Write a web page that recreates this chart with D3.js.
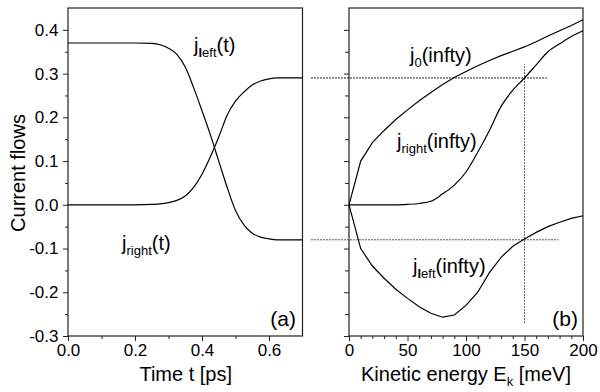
<!DOCTYPE html>
<html>
<head>
<meta charset="utf-8">
<script src="https://cdn.jsdelivr.net/npm/d3@7"></script>
<style>
  html, body { margin: 0; padding: 0; background: #fff; }
  svg { display: block; font-family: "Liberation Sans", Arial, sans-serif; }
</style>
</head>
<body>
<svg id="chart" width="600" height="392"></svg>
<script>
// ---- Data ----
// Panel (a): time in ps
const timeT = [0, 0.05, 0.1, 0.15, 0.2, 0.25, 0.275, 0.3, 0.325, 0.35, 0.375, 0.4, 0.425, 0.45, 0.475, 0.5, 0.525, 0.55, 0.575, 0.6, 0.625, 0.65, 0.7];
const jLeftT  = [0.37, 0.37, 0.37, 0.37, 0.37, 0.369, 0.366, 0.358, 0.344, 0.315, 0.268, 0.215, 0.16, 0.10, 0.04, -0.013, -0.046, -0.065, -0.074, -0.078, -0.08, -0.08, -0.08];
const jRightT = [0, 0, 0, 0, 0, 0.001, 0.002, 0.005, 0.01, 0.02, 0.04, 0.07, 0.11, 0.155, 0.205, 0.237, 0.258, 0.274, 0.283, 0.288, 0.29, 0.29, 0.29];

// Panel (b): kinetic energy in meV
const energyE = [0, 10, 20, 30, 40, 50, 60, 70, 80, 90, 100, 110, 120, 130, 140, 150, 160, 170, 180, 190, 200];
const j0Inf     = [0, 0.10, 0.142, 0.17, 0.195, 0.217, 0.238, 0.257, 0.275, 0.291, 0.305, 0.318, 0.33, 0.341, 0.351, 0.361, 0.373, 0.386, 0.398, 0.41, 0.423];
const jRightInf = [0, 0, 0, 0, 0, 0.001, 0.003, 0.008, 0.025, 0.045, 0.075, 0.12, 0.17, 0.225, 0.262, 0.29, 0.32, 0.35, 0.368, 0.385, 0.398];
const jLeftInf  = [0, -0.10, -0.14, -0.168, -0.193, -0.214, -0.233, -0.248, -0.257, -0.252, -0.23, -0.20, -0.155, -0.12, -0.095, -0.078, -0.063, -0.05, -0.04, -0.031, -0.025];

// Reference (dotted) lines in panel (b) coordinates
const hLine1 = { y: 0.29, x0: -32.5, x1: 169 };
const hLine2 = { y: -0.08, x0: -32.5, x1: 179 };
const vLine  = { x: 150, y0: -0.27, y1: 0.322 };

// Tick values
const yMajor = [-0.3, -0.2, -0.1, 0.0, 0.1, 0.2, 0.3, 0.4];
const yMinor = [-0.25, -0.15, -0.05, 0.05, 0.15, 0.25, 0.35];
const tMajor = [0.0, 0.2, 0.4, 0.6];
const tMinor = [0.1, 0.3, 0.5];
const eMajor = [0, 50, 100, 150, 200];
const eMinor = [10, 20, 30, 40, 60, 70, 80, 90, 110, 120, 130, 140, 160, 170, 180, 190];

// ---- Layout ----
const plotTop = 8, plotBottom = 336;
const aLeft = 68, aRight = 302.5;
const bLeft = 349, bRight = 583;

const svg = d3.select("#chart");
const y = d3.scaleLinear().domain([-0.3, 0.45]).range([plotBottom, plotTop]);
const xA = d3.scaleLinear().domain([0, 0.7]).range([aLeft, aRight]);
const xB = d3.scaleLinear().domain([0, 200]).range([bLeft, bRight]);

const axisColor = "#222";
const fmt = d => d.toFixed(1);

function styleAxis(g, fontSize) {
  g.select(".domain").remove();
  g.selectAll(".tick line").attr("stroke", axisColor);
  g.selectAll(".tick text").attr("fill", "#000").attr("font-size", fontSize)
    .attr("font-family", '"Liberation Sans", Arial, sans-serif');
}

// Panel (a) axes
svg.append("g").attr("transform", `translate(${aLeft},0)`)
  .call(d3.axisLeft(y).tickValues(yMajor).tickSize(5).tickPadding(4.5).tickFormat(fmt))
  .call(g => styleAxis(g, 17));
svg.append("g").attr("transform", `translate(${aLeft},0)`)
  .call(d3.axisLeft(y).tickValues(yMinor).tickSize(3).tickFormat(""))
  .call(g => styleAxis(g, 17));
svg.append("g").attr("transform", `translate(0,${plotBottom})`)
  .call(d3.axisBottom(xA).tickValues(tMajor).tickSize(5).tickPadding(3).tickFormat(fmt))
  .call(g => styleAxis(g, 17));
svg.append("g").attr("transform", `translate(0,${plotBottom})`)
  .call(d3.axisBottom(xA).tickValues(tMinor).tickSize(3).tickFormat(""))
  .call(g => styleAxis(g, 17));

// Panel (b) axes
svg.append("g").attr("transform", `translate(${bLeft},0)`)
  .call(d3.axisLeft(y).tickValues(yMajor).tickSize(5).tickFormat(""))
  .call(g => styleAxis(g, 17));
svg.append("g").attr("transform", `translate(${bLeft},0)`)
  .call(d3.axisLeft(y).tickValues(yMinor).tickSize(4).tickFormat(""))
  .call(g => styleAxis(g, 17));
svg.append("g").attr("transform", `translate(0,${plotBottom})`)
  .call(d3.axisBottom(xB).tickValues(eMajor).tickSize(5).tickPadding(3).tickFormat(d3.format("d")))
  .call(g => styleAxis(g, 17));
svg.append("g").attr("transform", `translate(0,${plotBottom})`)
  .call(d3.axisBottom(xB).tickValues(eMinor).tickSize(3).tickFormat(""))
  .call(g => styleAxis(g, 17));

// Frames
svg.append("rect").attr("x", aLeft).attr("y", plotTop).attr("width", aRight - aLeft).attr("height", plotBottom - plotTop)
  .attr("fill", "none").attr("stroke", axisColor).attr("stroke-width", 1.2);
svg.append("rect").attr("x", bLeft).attr("y", plotTop).attr("width", bRight - bLeft).attr("height", plotBottom - plotTop)
  .attr("fill", "none").attr("stroke", axisColor).attr("stroke-width", 1.2);

// Dotted reference lines
svg.append("line").attr("x1", xB(hLine1.x0)).attr("x2", xB(hLine1.x1)).attr("y1", y(hLine1.y)).attr("y2", y(hLine1.y))
  .attr("stroke", "#222").attr("stroke-width", 1).attr("stroke-dasharray", "2,1");
svg.append("line").attr("x1", xB(hLine2.x0)).attr("x2", xB(hLine2.x1)).attr("y1", y(hLine2.y)).attr("y2", y(hLine2.y))
  .attr("stroke", "#555").attr("stroke-width", 1).attr("stroke-dasharray", "2,1");
svg.append("line").attr("x1", xB(vLine.x)).attr("x2", xB(vLine.x)).attr("y1", y(vLine.y0)).attr("y2", y(vLine.y1))
  .attr("stroke", "#666").attr("stroke-width", 1).attr("stroke-dasharray", "2,1");

// Curves
const lineA = d3.line().x(d => xA(d[0])).y(d => y(d[1])).curve(d3.curveMonotoneX);
const lineB = d3.line().x(d => xB(d[0])).y(d => y(d[1])).curve(d3.curveLinear);
const lineBs = d3.line().x(d => xB(d[0])).y(d => y(d[1])).curve(d3.curveMonotoneX);

function drawCurve(xs, ys, gen) {
  svg.append("path").datum(xs.map((v, i) => [v, ys[i]]))
    .attr("d", gen).attr("fill", "none").attr("stroke", "#000").attr("stroke-width", 1.2);
}
drawCurve(timeT, jLeftT, lineA);
drawCurve(timeT, jRightT, lineA);
drawCurve(energyE, j0Inf, lineB);
drawCurve(energyE, jRightInf, lineBs);
drawCurve(energyE, jLeftInf, lineB);

// Labels with subscripts
function subLabel(x, yPos, sub, rest, boldFirst) {
  const t = svg.append("text").attr("x", x).attr("y", yPos).attr("font-size", 20).attr("fill", "#000");
  t.append("tspan").text("j");
  if (boldFirst) {
    t.append("tspan").attr("dy", 5).attr("font-size", 13).attr("font-weight", "bold").text(sub[0]);
    t.append("tspan").attr("font-size", 13).text(sub.slice(1));
  } else {
    t.append("tspan").attr("dy", 5).attr("font-size", 13).text(sub);
  }
  t.append("tspan").attr("dy", -5).text(rest);
}
subLabel(194, 52, "left", "(t)", true);
subLabel(122, 250, "right", "(t)", false);
subLabel(410, 62, "0", "(infty)", false);
subLabel(397, 148, "right", "(infty)", false);
subLabel(413, 273, "left", "(infty)", true);

// Panel labels
svg.append("text").attr("x", 296).attr("y", 326).attr("text-anchor", "end").attr("font-size", 21).text("(a)");
svg.append("text").attr("x", 578).attr("y", 326).attr("text-anchor", "end").attr("font-size", 21).text("(b)");

// Axis titles
svg.append("text").attr("transform", "translate(25,173) rotate(-90)").attr("text-anchor", "middle")
  .attr("font-size", 20).text("Current flows");
svg.append("text").attr("x", (aLeft + aRight) / 2 + 0.5).attr("y", 381).attr("text-anchor", "middle")
  .attr("font-size", 20).text("Time t [ps]");
const kt = svg.append("text").attr("x", 466).attr("y", 381).attr("text-anchor", "middle").attr("font-size", 20);
kt.append("tspan").text("Kinetic energy E");
kt.append("tspan").attr("dy", 5).attr("font-size", 13).text("k");
kt.append("tspan").attr("dy", -5).text(" [meV]");
</script>
</body>
</html>
